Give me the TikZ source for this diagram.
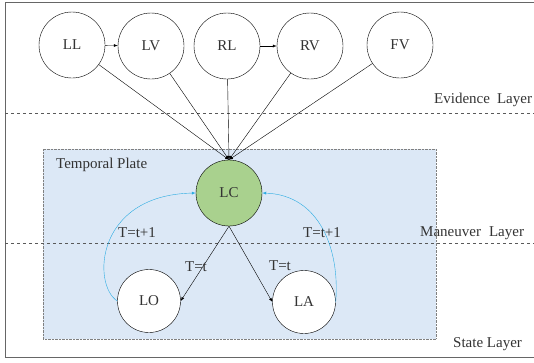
\documentclass[tikz,border=0pt]{standalone}
\usepackage{fontspec}
\setmainfont{Liberation Serif}
\definecolor{plateblue}{RGB}{220,232,246}
\definecolor{lcgreen}{RGB}{169,209,142}
\definecolor{linkblue}{RGB}{41,171,226}
\definecolor{textgray}{RGB}{51,51,51}
\begin{document}
\begin{tikzpicture}[x=1pt,y=-1pt,>=latex,thin,
				font=\fontsize{15}{17}\selectfont,
				main node/.style = {circle,draw,fill=white,inner sep = 0pt,minimum size = 66pt,text=textgray},
				layer line/.style = {dashed,gray!70!black},
				layer label/.style = {anchor=west,text=textgray,inner sep=0pt},
				time link/.style = {->,linkblue}]
				
				\useasboundingbox (0,0) rectangle (534,362);
				\draw[gray!80!black,line width=1pt] (5,2) rectangle (560,357);
				
				% temporal plate
				\draw[densely dotted,gray,fill=plateblue] (43,149) rectangle (436,339);
				\node[layer label] (plate) at (56,165) {Temporal Plate};
				
				% layers
				\draw[layer line] (5,113) -- (534,113);
				\draw[layer line] (5,243) -- (534,243);
				\node[layer label] (evidence) at (434,100) {Evidence\hspace{7pt}Layer};
				\node[layer label] (maneuver) at (420,233) {Maneuver\hspace{8pt}Layer};
				\node[layer label] (state) at (453,344) {State Layer};
				
				\node[main node] (LL) at (72,45) {LL};
				\node[main node] (LV) at (151,46) {LV};
				\node[main node] (RL) at (227,46) {RL};
				\node[main node] (RV) at (310,46) {RV};
				\node[main node] (FV) at (400,45) {FV};
				\node[main node,fill=lcgreen] (LC) at (229,193) {LC};
				\node[main node,minimum size=63pt] (LO) at (149,301) {LO};
				\node[main node,minimum size=63pt] (LA) at (304,302) {LA};
				
				\path[->] (LL) edge (LV);
				\path[->] (RL) edge (RV);
				\foreach \ev in {LL,LV,RL,RV,FV}
					\draw[->] (\ev) -- (LC.north);
				
				\draw[->] (LC.south) -- (LO.east);
				\draw[->] (LC.south) -- (LA.west);
				\node[text=textgray] (t1) at (196,267) {T=t};
				\node[text=textgray] (t2) at (280,266) {T=t};
				
				\draw[time link] (LO.west) .. controls (92,285) and (95,195) .. (LC.west);
				\draw[time link] (LA.east) .. controls (340,250) and (320,195) .. (LC.east);
				\node[text=textgray] (t3) at (137,233) {T=t+1};
				\node[text=textgray] (t4) at (322,233) {T=t+1};
				
				\end{tikzpicture}
\end{document}
